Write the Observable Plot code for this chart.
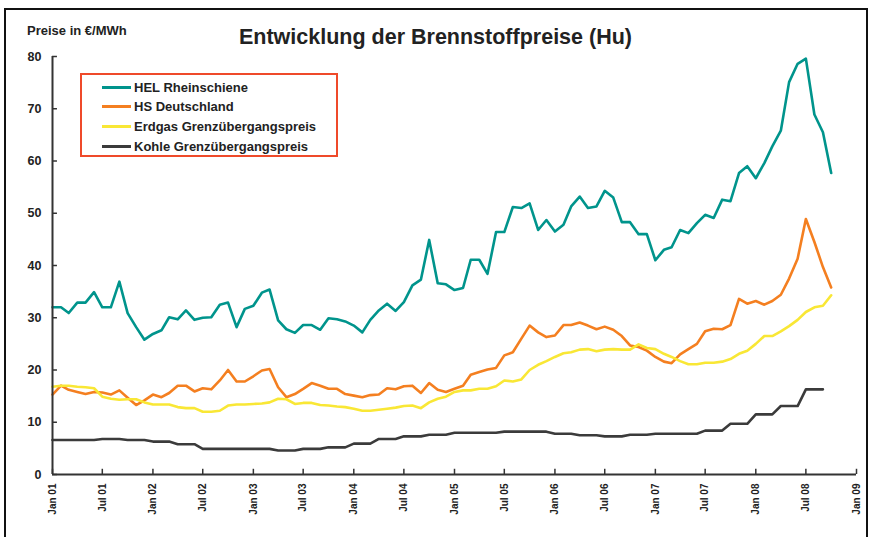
<!DOCTYPE html>
<html>
<head>
<meta charset="utf-8">
<script src="https://cdn.jsdelivr.net/npm/d3@7"></script>
<script src="https://cdn.jsdelivr.net/npm/@observablehq/plot@0.6"></script>
<style>
  html, body { margin: 0; padding: 0; background: #fff; }
  body { font-family: "Liberation Sans", Arial, sans-serif; }
  #wrap { position: relative; width: 871px; height: 537px; overflow: hidden; }
  #frame { position: absolute; left: 4px; top: 8px; width: 864px; height: 540px; border-left: 2px solid #111; border-top: 2px solid #111; border-right: 2px solid #111; box-sizing: border-box; }
  #title { position: absolute; left: 0; width: 871px; top: 25px; text-align: center; font-size: 21.5px; font-weight: bold; color: #222; }
  #ylabel { position: absolute; left: 27px; top: 23px; font-size: 13px; font-weight: bold; color: #222; }
  #legend { position: absolute; left: 80px; top: 73px; width: 258px; height: 84px; border: 2px solid #ef4a2a; box-sizing: border-box; }
  .row { position: absolute; left: 20px; height: 16px; display: flex; align-items: center; font-size: 13px; font-weight: bold; color: #222; white-space: nowrap; }
  .sw { width: 29px; height: 3px; margin-right: 3px; }
  svg { position: absolute; left: 0; top: 0; }
</style>
</head>
<body>
<div id="wrap">
  <div id="chart"></div>
  <div id="frame"></div>
  <div id="ylabel">Preise in €/MWh</div>
  <div id="title">Entwicklung der Brennstoffpreise (Hu)</div>
  <div id="legend"></div>
</div>
<script>
// ---- data (monthly, starting January 2001) ----
const startYear = 2001;
const seriesNames = ["HEL Rheinschiene", "HS Deutschland", "Erdgas Grenzübergangspreis", "Kohle Grenzübergangspreis"];
const seriesColors = ["#00948c", "#f47f20", "#f9e735", "#3b3b3b"];

const helRheinschiene = [
  32.0, 32.0, 30.9, 32.9, 32.9, 34.9, 32.0, 32.0, 36.9, 30.9, 28.2, 25.8,
  26.9, 27.6, 30.1, 29.7, 31.4, 29.6, 30.0, 30.1, 32.5, 32.9, 28.2, 31.7,
  32.3, 34.8, 35.4, 29.5, 27.8, 27.1, 28.6, 28.6, 27.7, 29.9, 29.7, 29.3,
  28.5, 27.2, 29.6, 31.4, 32.7, 31.3, 33.0, 36.2, 37.3, 44.9, 36.6, 36.4,
  35.3, 35.7, 41.1, 41.1, 38.4, 46.4, 46.4, 51.2, 51.0, 51.9, 46.8, 48.7,
  46.5, 47.8, 51.3, 53.2, 51.0, 51.3, 54.3, 53.0, 48.3, 48.3, 46.0, 46.0,
  41.0, 43.0, 43.5, 46.8, 46.2, 48.1, 49.7, 49.1, 52.6, 52.3, 57.7, 59.0,
  56.7, 59.6, 62.8, 65.8, 75.1, 78.6, 79.6, 68.9, 65.5, 57.7
];
const hsDeutschland = [
  15.3, 17.0, 16.2, 15.8, 15.4, 15.8, 15.7, 15.3, 16.1, 14.7, 13.3, 14.2,
  15.3, 14.8, 15.6, 17.0, 17.0, 15.9, 16.5, 16.3, 18.0, 20.0, 17.8, 17.8,
  18.8, 19.9, 20.2, 16.7, 14.8, 15.4, 16.4, 17.5, 17.0, 16.4, 16.4, 15.4,
  15.1, 14.8, 15.2, 15.3, 16.5, 16.3, 16.9, 17.0, 15.6, 17.5, 16.2, 15.8,
  16.4, 17.0, 19.1, 19.6, 20.1, 20.4, 22.8, 23.4, 26.0, 28.5, 27.2, 26.3,
  26.6, 28.6, 28.6, 29.1, 28.5, 27.8, 28.3, 27.7, 26.5, 24.7, 24.4, 23.7,
  22.5, 21.6, 21.3, 23.0, 24.0, 25.0, 27.4, 27.9, 27.8, 28.6, 33.6, 32.7,
  33.2, 32.5, 33.2, 34.4, 37.5, 41.3, 48.9, 44.5, 39.7, 35.8
];
const erdgas = [
  16.8, 17.0, 17.0, 16.8, 16.7, 16.5, 14.9, 14.5, 14.3, 14.4, 14.4, 13.8,
  13.4, 13.4, 13.4, 12.9, 12.7, 12.7, 12.0, 12.0, 12.2, 13.2, 13.4, 13.4,
  13.5, 13.6, 13.8, 14.5, 14.4, 13.5, 13.7, 13.7, 13.3, 13.2, 13.0, 12.9,
  12.6, 12.2, 12.2, 12.4, 12.6, 12.8, 13.1, 13.2, 12.7, 13.8, 14.5, 14.9,
  15.8, 16.1, 16.1, 16.4, 16.4, 16.9, 18.0, 17.8, 18.2, 20.0, 21.0, 21.7,
  22.5, 23.2, 23.4, 23.9, 24.0, 23.6, 23.9, 24.0, 23.9, 23.9, 24.9, 24.2,
  24.0, 23.1, 22.5, 21.7, 21.1, 21.1, 21.4, 21.4, 21.6, 22.1, 23.1, 23.7,
  25.0, 26.5, 26.5, 27.4, 28.4, 29.6, 31.1, 32.0, 32.3, 34.3
];
const kohle = [
  6.6, 6.6, 6.6, 6.6, 6.6, 6.6, 6.8, 6.8, 6.8, 6.6, 6.6, 6.6,
  6.3, 6.3, 6.3, 5.8, 5.8, 5.8, 4.9, 4.9, 4.9, 4.9, 4.9, 4.9,
  4.9, 4.9, 4.9, 4.6, 4.6, 4.6, 4.9, 4.9, 4.9, 5.2, 5.2, 5.2,
  5.9, 5.9, 5.9, 6.8, 6.8, 6.8, 7.3, 7.3, 7.3, 7.6, 7.6, 7.6,
  8.0, 8.0, 8.0, 8.0, 8.0, 8.0, 8.2, 8.2, 8.2, 8.2, 8.2, 8.2,
  7.8, 7.8, 7.8, 7.5, 7.5, 7.5, 7.3, 7.3, 7.3, 7.6, 7.6, 7.6,
  7.8, 7.8, 7.8, 7.8, 7.8, 7.8, 8.4, 8.4, 8.4, 9.7, 9.7, 9.7,
  11.5, 11.5, 11.5, 13.1, 13.1, 13.1, 16.3, 16.3, 16.3
];
const yTicks = [0, 10, 20, 30, 40, 50, 60, 70, 80];
const xTickLabels = ["Jan 01","Jul 01","Jan 02","Jul 02","Jan 03","Jul 03","Jan 04","Jul 04",
  "Jan 05","Jul 05","Jan 06","Jul 06","Jan 07","Jul 07","Jan 08","Jul 08","Jan 09"];

// ---- build ----
const monthDate = i => new Date(Date.UTC(startYear, i, 1));
const toRows = arr => arr.map((v, i) => ({date: monthDate(i), value: v}));
const allSeries = [helRheinschiene, hsDeutschland, erdgas, kohle];
const xTicks = xTickLabels.map((s, i) => new Date(Date.UTC(startYear + Math.floor(i / 2), (i % 2) * 6, 1)));
const x0 = new Date(Date.UTC(2001, 0, 1));
const x1 = new Date(Date.UTC(2009, 0, 1));
const labelOf = new Map(xTicks.map((d, i) => [+d, xTickLabels[i]]));

const axisColor = "#333";
const chart = Plot.plot({
  width: 871,
  height: 537,
  marginLeft: 52,
  marginRight: 15,
  marginTop: 56,
  marginBottom: 63,
  style: {fontFamily: "'Liberation Sans', Arial, sans-serif", color: "#222", background: "transparent"},
  x: {type: "utc", domain: [x0, x1]},
  y: {domain: [0, 80]},
  marks: [
    Plot.axisY({ticks: yTicks, tickSize: 0, tickPadding: 11, fontSize: 12.5, fontWeight: "bold", label: null}),
    Plot.axisX({ticks: xTicks, tickFormat: d => labelOf.get(+d), tickRotate: -90, tickSize: 0, tickPadding: 9,
                fontSize: 10, fontWeight: "bold", label: null}),
    ...allSeries.map((s, i) => Plot.lineY(toRows(s), {x: "date", y: "value", stroke: seriesColors[i], strokeWidth: 2.6})),
    Plot.ruleY(yTicks, {x1: x0, x2: new Date(Date.UTC(2001, 0, 19)), stroke: axisColor, strokeWidth: 1.5}),
    Plot.ruleX(xTicks, {y1: 0, y2: 1.0, stroke: axisColor, strokeWidth: 1.5}),
    Plot.ruleX([x0], {y1: 0, y2: 80, stroke: axisColor, strokeWidth: 2}),
    Plot.ruleY([0], {x1: x0, x2: x1, stroke: axisColor, strokeWidth: 2})
  ]
});
document.getElementById("chart").appendChild(chart);

// legend
const legend = document.getElementById("legend");
const rowTops = [4, 23, 43, 63];
seriesNames.forEach((name, i) => {
  const row = document.createElement("div");
  row.className = "row";
  row.style.top = rowTops[i] + "px";
  const sw = document.createElement("span");
  sw.className = "sw";
  sw.style.background = seriesColors[i];
  row.appendChild(sw);
  row.appendChild(document.createTextNode(name));
  legend.appendChild(row);
});
</script>
</body>
</html>
